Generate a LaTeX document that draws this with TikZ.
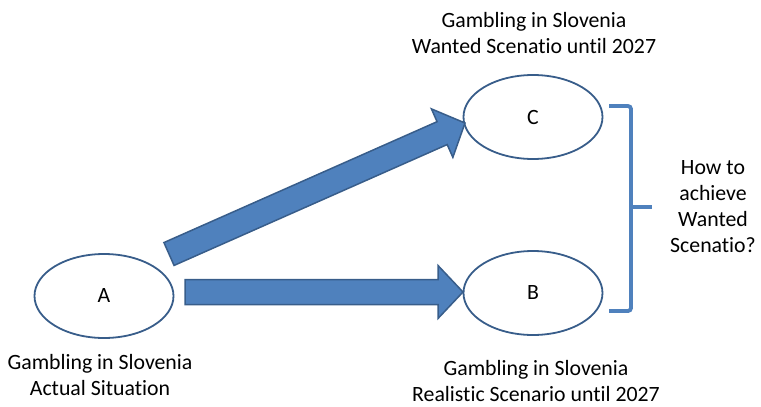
\documentclass[tikz,border=0pt]{standalone}
\usepackage{fontspec}
\setmainfont{Carlito}[Ligatures={NoCommon,NoContextual},RawFeature={-liga}]
\usetikzlibrary{shapes.geometric,calc}
\definecolor{fillblue}{HTML}{4F81BD}
\definecolor{edgeblue}{HTML}{385D8A}
\newcommand\blockarrow[2]{%
  \coordinate (hb) at ($(#2)!25pt!(#1)$);
  \draw[blockarr] ($(#1)!12.5pt!90:(#2)$) -- ($(hb)!12.5pt!-90:(#1)$) -- ($(hb)!26.5pt!-90:(#1)$) -- (#2)
    -- ($(hb)!26.5pt!90:(#1)$) -- ($(hb)!12.5pt!90:(#1)$) -- ($(#1)!12.5pt!-90:(#2)$) -- cycle;}
\tikzset{
  oval/.style={draw=edgeblue, line width=1.8pt, ellipse, minimum width=139pt, minimum height=84pt, inner sep=0pt, font=\fontsize{21.8}{26}\selectfont},
  lbl/.style={align=center, font=\fontsize{21.8}{26}\selectfont, inner sep=0pt},
  blockarr/.style={fill=fillblue, draw=edgeblue, line width=1.5pt, line join=miter},
  brace/.style={draw=fillblue, line width=3.8pt, rounded corners=3pt}
}
\begin{document}
\begin{tikzpicture}[x=1pt,y=-1pt]
\useasboundingbox (0,0) rectangle (761,407);
\node[oval] (A) at (104,296) {A};
\node[oval] (C) at (533,117) {C};
\node[oval] (B) at (533,293) {B};
\coordinate (t1) at (169,254);
\coordinate (h1) at (465,123);
\coordinate (t2) at (185,292);
\coordinate (h2) at (463,292);
\blockarrow{t1}{h1}
\blockarrow{t2}{h2}
\coordinate (br1) at (609,106);
\coordinate (br2) at (631,106);
\coordinate (br3) at (631,311);
\coordinate (br4) at (609,311);
\coordinate (brm) at (631,207);
\coordinate (brt) at (652,207);
\draw[brace] (br1) -- (br2) -- (br3) -- (br4);
\draw[brace] (brm) -- (brt);
\node[lbl] (lc) at (534,33) {Gambling in Slovenia\\Wanted Scenat\kern0pt io until 2027};
\node[lbl] (lb) at (536,381) {Gambling in Slovenia\\Realistic Scenario until 2027};
\node[lbl] (la) at (100,375) {Gambling in Slovenia\\Actual Situat\kern0pt ion};
\node[lbl] (lq) at (713,207) {How to\\achieve\\Wanted\\Scenat\kern0pt io?};
\end{tikzpicture}
\end{document}
